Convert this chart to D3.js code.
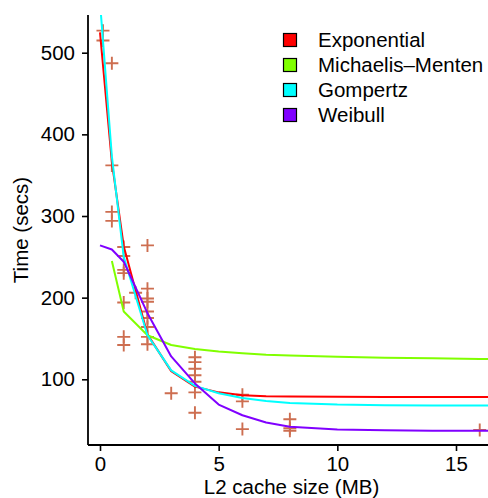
<!DOCTYPE html>
<html><head><meta charset="utf-8">
<script src="https://cdn.jsdelivr.net/npm/d3@7"></script>
<style>body{margin:0;background:#fff}svg{display:block}text{font-family:"Liberation Sans",Arial,sans-serif;fill:#000}</style>
</head><body><div id="c"></div>
<script>
// observed points (L2 cache size MB, time secs)
const pointX = [0.125,0.125, 0.5,0.5,0.5,0.5, 1,1,1,1,1,1,1, 1.5, 2,2,2,2,2,2,2,2,2, 3, 4,4,4,4,4,4,4, 6,6,6, 8,8,8, 16];
const pointY = [527,515, 487,362,305,294, 262,251,234,230,194,152,142, 206, 264,211,199,195,183,175,164,152,143, 83, 127,121,113,105,97,84,59, 81,73,39, 51,40,37, 38];
// fitted curves
const curveX = [0,0.5,1,2,3,4,5,6,7,8,10,12,14,16,17];
const expY   = [525,366,263,155,110,91,84,80.5,79.3,78.8,78.5,78.4,78.3,78.3,78.3];
const mmY    = [null,245,183,154,142,137,134,132,130,129,127.5,126.5,125.7,125,124.7];
const gompY  = [562,373,250,154,111,92,83,77,73.5,71,69,68.3,68,67.8,67.7];
const weibY  = [264,259,244,181,128,95,69,56,47,42,38.5,37.5,37,37,37];
const seriesNames = ["Exponential","Michaelis\u2013Menten","Gompertz","Weibull"];
const seriesColors = ["#FF0000","#80FF00","#00FFFF","#8000FF"];
const seriesY = [expY, mmY, gompY, weibY];
const yTicks = [100,200,300,400,500];
const xTicks = [0,5,10,15];

(function(){
const W=488,H=498;
const pL=88, pT=15, pB=445, pR=500;
const svg=d3.select("#c").append("svg").attr("width",W).attr("height",H);
const x=d3.scaleLinear().domain([0,15]).range([100,456]);
const y=d3.scaleLinear().domain([100,500]).range([379.3,52.7]);

svg.append("defs").append("clipPath").attr("id","clip").append("rect")
  .attr("x",pL).attr("y",pT).attr("width",pR-pL).attr("height",pB-pT);

const plot=svg.append("g").attr("clip-path","url(#clip)");
const s=6.5;
const pts=plot.append("g").attr("stroke","#CD6E50").attr("stroke-width",1.9).attr("fill","none");
pointX.forEach((px,i)=>{
  const cx=x(px), cy=y(pointY[i]);
  pts.append("path").attr("d",`M${cx-s},${cy}H${cx+s}M${cx},${cy-s}V${cy+s}`);
});
seriesY.forEach((ys,k)=>{
  const data=curveX.map((cx,i)=>[cx,ys[i]]).filter(d=>d[1]!==null);
  plot.append("path").datum(data).attr("fill","none").attr("stroke",seriesColors[k])
    .attr("stroke-width",2).attr("stroke-linejoin","round")
    .attr("d",d3.line().x(d=>x(d[0])).y(d=>y(d[1])));
});

const fs=20.5;
const yAxis=d3.axisLeft(y).tickValues(yTicks).tickSize(6).tickPadding(7);
const gy=svg.append("g").attr("transform",`translate(${pL},0)`).call(yAxis);
gy.select(".domain").remove();
gy.selectAll("line").attr("stroke","#000").attr("stroke-width",1.6);
gy.selectAll("text").attr("font-size",fs).attr("font-family","Liberation Sans, Arial, sans-serif").attr("fill","#000");
svg.append("line").attr("x1",pL).attr("x2",pL).attr("y1",pT).attr("y2",pB).attr("stroke","#000").attr("stroke-width",1.8);

const xAxis=d3.axisBottom(x).tickValues(xTicks).tickSize(6).tickPadding(5);
const gx=svg.append("g").attr("transform",`translate(0,${pB})`).call(xAxis);
gx.select(".domain").remove();
gx.selectAll("line").attr("stroke","#000").attr("stroke-width",1.6);
gx.selectAll("text").attr("font-size",fs).attr("font-family","Liberation Sans, Arial, sans-serif").attr("fill","#000");
svg.append("line").attr("x1",pL).attr("x2",W).attr("y1",pB).attr("y2",pB).attr("stroke","#000").attr("stroke-width",1.8);

svg.append("text").attr("x",291.5).attr("y",494).attr("text-anchor","middle").attr("font-size",fs).text("L2 cache size (MB)");
svg.append("text").attr("transform","translate(28,230) rotate(-90)").attr("text-anchor","middle").attr("font-size",fs).text("Time (secs)");

const lg=svg.append("g");
seriesNames.forEach((n,i)=>{
  const cy=40+i*25;
  lg.append("rect").attr("x",283.5).attr("y",cy-6.5).attr("width",13).attr("height",13)
    .attr("fill",seriesColors[i]).attr("stroke","#000").attr("stroke-width",1.2);
  lg.append("text").attr("x",318).attr("y",cy).attr("dy","0.35em").attr("font-size",fs).text(n);
});
})();
</script></body></html>
